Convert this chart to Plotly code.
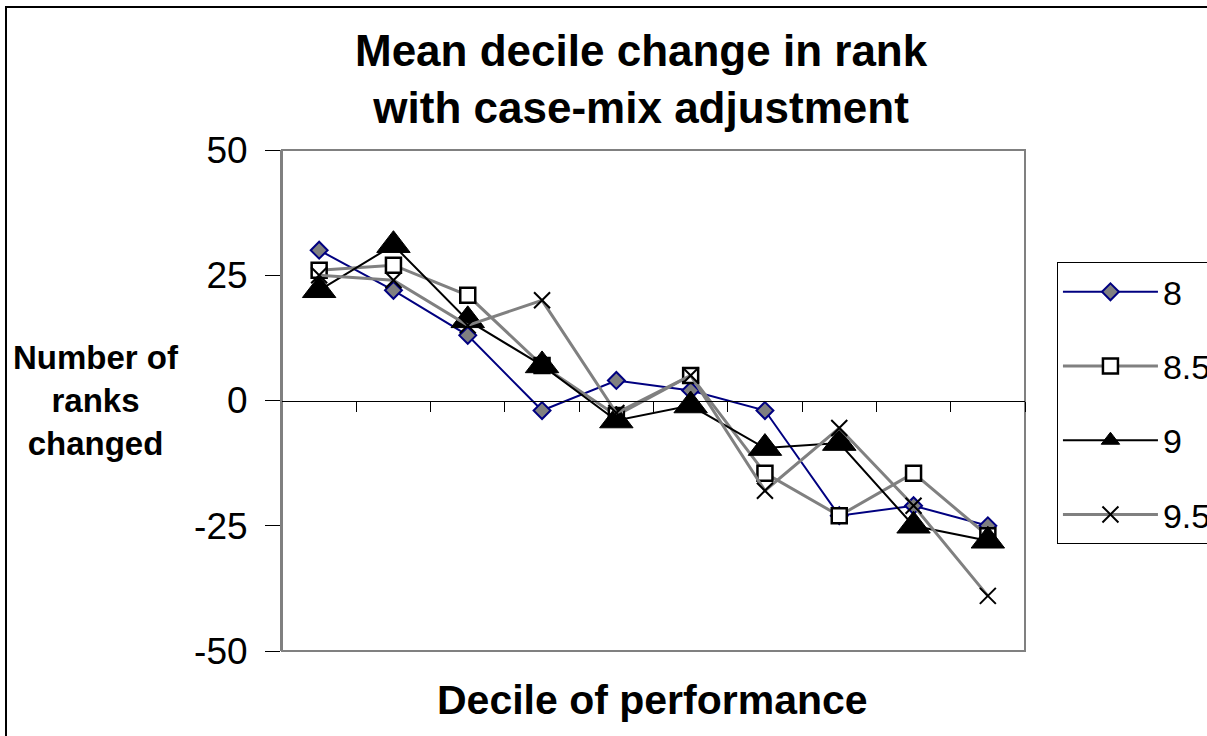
import plotly.graph_objects as go

deciles = [1, 2, 3, 4, 5, 6, 7, 8, 9, 10]
series_names = ["8", "8.5", "9", "9.5"]
s8 = [30, 22, 13, -2, 4, 2, -2, -23, -21, -25]
s85 = [26, 27, 21, 7, -3, 5, -14.5, -23, -14.5, -27]
s9 = [22, 31, 16, 7, -4, -1, -9.5, -8.5, -25, -28]
s95 = [25, 24, 15, 20, -2.5, 5, -18, -5.5, -21, -39]
y_ticks = [-50, -25, 0, 25, 50]
y_tick_labels = ["-50", "-25", "0", "25", "50"]
x_boundaries = [1.5, 2.5, 3.5, 4.5, 5.5, 6.5, 7.5, 8.5, 9.5, 10.5]

FONT = "Liberation Sans, Arial, sans-serif"

styles = [
    dict(line=dict(color="#000080", width=2),
         marker=dict(symbol="diamond", size=13, color="#808080",
                     line=dict(color="#000080", width=2))),
    dict(line=dict(color="#808080", width=3),
         marker=dict(symbol="square", size=15, color="white",
                     line=dict(color="black", width=2.5))),
    dict(line=dict(color="black", width=2),
         marker=dict(symbol="triangle-up", size=29, color="black",
                     line=dict(color="black", width=1))),
    dict(line=dict(color="#808080", width=3),
         marker=dict(symbol="x-thin", size=16, color="black",
                     line=dict(color="black", width=2))),
]

fig = go.Figure()
for i, (name, vals) in enumerate(zip(series_names, [s8, s85, s9, s95])):
    fig.add_trace(go.Scatter(
        x=deciles, y=vals, name=name, mode="lines+markers",
        legendgroup=name, **styles[i]))

fig.update_layout(
    width=1207, height=736,
    paper_bgcolor="white", plot_bgcolor="white",
    margin=dict(l=282, r=182, t=150, b=85, autoexpand=False),
    font=dict(family=FONT, color="black"),
    showlegend=True,
    legend=dict(x=1.043, y=0.776, xanchor="left", yanchor="top",
                bordercolor="black", borderwidth=1, bgcolor="white",
                font=dict(size=34, family=FONT), itemwidth=95,
                tracegroupgap=27, traceorder="grouped"),
    xaxis=dict(range=[0.5, 10.5], showticklabels=False, showgrid=False,
               zeroline=False, anchor="free", position=0.5,
               showline=True, linecolor="black", linewidth=1,
               ticks="outside", ticklen=10, tickcolor="black",
               tickvals=x_boundaries),
    yaxis=dict(range=[-50, 50], tickvals=y_ticks, ticktext=y_tick_labels,
               showgrid=False, zeroline=False, showline=True,
               linecolor="#808080", linewidth=2, ticks="outside",
               ticklen=15, tickcolor="black",
               tickfont=dict(size=37, family=FONT), ticklabelstandoff=10),
    shapes=[
        dict(type="rect", xref="x domain", yref="y domain", x0=0, x1=1,
             y0=0, y1=1, line=dict(color="#808080", width=2),
             fillcolor="rgba(0,0,0,0)", layer="below"),
        dict(type="rect", xref="paper", yref="paper",
             x0=(6 - 282) / 743, x1=(1230 - 282) / 743,
             y0=(651 - 760) / 501, y1=(651 - 7) / 501,
             line=dict(color="black", width=2), fillcolor="rgba(0,0,0,0)"),
    ],
    annotations=[
        dict(text="<b>Mean decile change in rank<br>with case-mix adjustment</b>",
             xref="paper", yref="paper", x=(641 - 282) / 743,
             y=(651 - 79) / 501, xanchor="center", yanchor="middle",
             showarrow=False, font=dict(size=44, family=FONT)),
        dict(text="<b>Number of<br>ranks<br>changed</b>",
             xref="paper", yref="paper", x=(96 - 282) / 743,
             y=(651 - 400) / 501, xanchor="center", yanchor="middle",
             showarrow=False, font=dict(size=33, family=FONT)),
        dict(text="<b>Decile of performance</b>",
             xref="paper", yref="paper", x=(652 - 282) / 743,
             y=(651 - 700) / 501, xanchor="center", yanchor="middle",
             showarrow=False, font=dict(size=41, family=FONT)),
    ],
)

fig.write_html("out.html",
               config={"displayModeBar": False},
               post_script="document.body.style.margin='0px';"
                           "document.body.style.padding='0px';")
